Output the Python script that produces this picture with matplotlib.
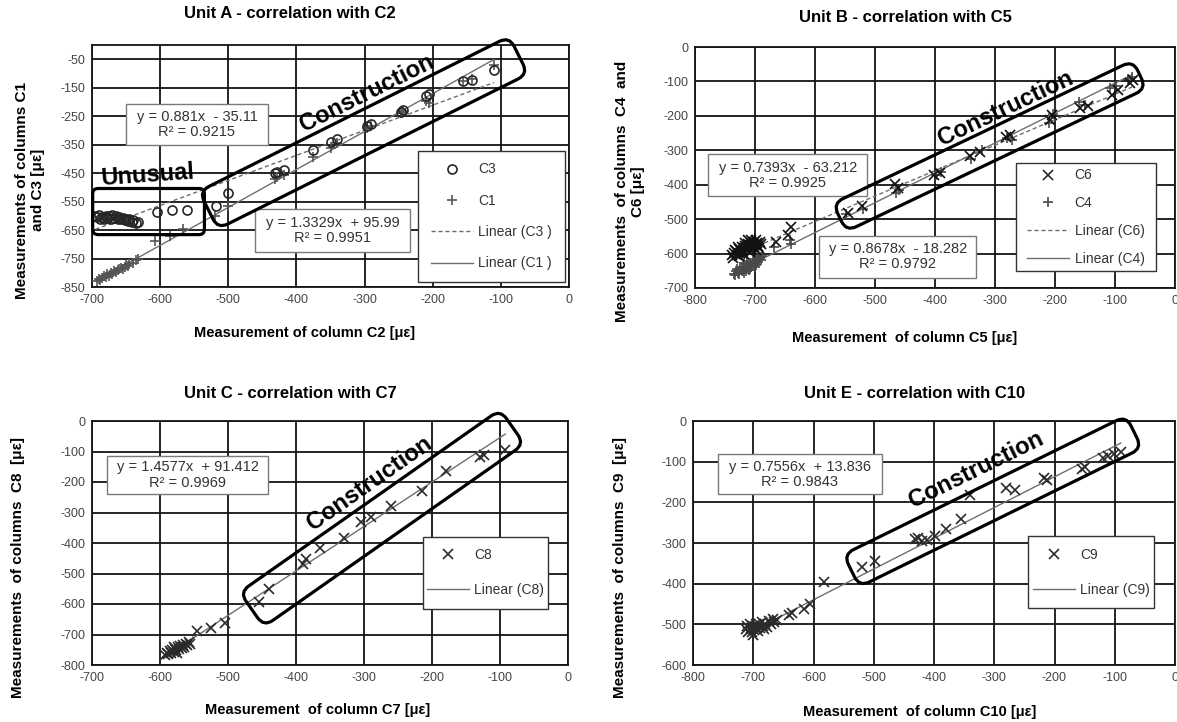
import numpy as np
import matplotlib
matplotlib.use("Agg")
import matplotlib.pyplot as plt
from matplotlib.patches import FancyBboxPatch, Rectangle
from matplotlib.lines import Line2D
from matplotlib.transforms import Affine2D

plt.rcParams['font.family'] = ['Liberation Sans', 'DejaVu Sans']
plt.rcParams['axes.unicode_minus'] = False

W, H = 1177, 722

# ---------------- Unit A ----------------
a_c2_c3 = [-695, -692, -690, -688, -685, -683, -680, -678, -675, -672, -670, -668, -665, -662, -660,
           -657, -655, -652, -650, -647, -645, -642, -640, -636, -633,
           -605, -583, -560, -518, -500, -432, -428, -418, -376, -350, -340, -296, -290, -246, -243,
           -210, -205, -155, -142, -110]
a_c3 = [-600, -605, -598, -610, -603, -612, -600, -608, -602, -612, -598, -606, -600, -610, -603,
        -612, -606, -615, -610, -618, -612, -620, -615, -625, -622,
        -585, -578, -580, -565, -520, -448, -445, -440, -370, -342, -330, -283, -278, -235, -230,
        -178, -172, -128, -122, -88]
a_c2_c1 = [-692, -690, -688, -685, -683, -680, -678, -675, -672, -670, -667, -665, -662, -660, -657,
           -655, -652, -650, -647, -645, -640, -636, -633,
           -607, -586, -566, -520, -500, -432, -428, -418, -376, -350, -340, -296, -290, -246, -243,
           -210, -205, -155, -142, -110]
a_c1 = [-830, -822, -826, -818, -812, -815, -806, -810, -800, -804, -795, -798, -790, -786, -782,
        -788, -778, -772, -776, -768, -765, -755, -750,
        -690, -672, -648, -600, -565, -470, -462, -455, -395, -362, -345, -290, -285, -238, -232,
        -195, -205, -125, -118, -70]
a_fit_c3 = (0.881, -35.11)
a_fit_c1 = (1.3329, 95.99)

# ---------------- Unit B ----------------
b_c5_c6 = [-738, -735, -732, -730, -727, -725, -722, -720, -717, -715, -712, -710, -707, -705, -702,
           -700, -697, -695, -692, -690, -718, -708, -698, -728, -712,
           -736, -733, -729, -724, -719, -714, -709, -704, -699, -694, -721, -716, -706, -701, -726,
           -665, -645, -640, -545, -522, -466, -462, -402, -392, -342, -325, -282, -275, -208, -205,
           -158, -145, -105, -95, -75, -70]
b_c6 = [-605, -598, -592, -603, -588, -597, -582, -592, -578, -588, -572, -583, -570, -580, -565,
        -575, -568, -578, -565, -572, -600, -595, -590, -580, -562,
        -612, -590, -598, -592, -585, -580, -576, -572, -560, -585, -598, -570, -560, -582, -608,
        -565, -545, -522, -482, -462, -398, -410, -372, -365, -318, -305, -262, -255, -212, -198,
        -178, -170, -140, -125, -105, -95]
b_c5_c4 = [-735, -732, -728, -725, -722, -720, -717, -714, -711, -708, -705, -702, -700, -697, -695,
           -692, -690, -688, -710, -700, -718,
           -733, -730, -726, -723, -719, -715, -712, -709, -706, -703, -698, -694, -691, -713, -704,
           -668, -642, -640, -548, -520, -465, -460, -398, -390, -340, -322, -280, -272, -210, -203,
           -160, -150, -108, -98, -78, -72]
b_c4 = [-658, -650, -655, -645, -650, -638, -644, -632, -640, -628, -635, -622, -630, -618, -625,
        -612, -620, -608, -648, -640, -628,
        -662, -645, -660, -640, -655, -650, -636, -645, -640, -626, -634, -615, -610, -622, -616,
        -580, -560, -572, -485, -470, -425, -415, -372, -362, -325, -300, -265, -270, -220, -195,
        -160, -168, -118, -112, -92, -88]
b_fit_c6 = (0.7393, -63.212)
b_fit_c4 = (0.8678, -18.282)

# ---------------- Unit C ----------------
c_c7 = [-592, -590, -588, -586, -584, -582, -580, -578, -576, -574, -572, -570, -568, -566, -564,
        -562, -560, -558, -556, -575, -580,
        -545, -525, -505, -455, -440, -390, -386, -365, -330, -305, -290, -260, -215, -180, -130,
        -124, -92]
c_c8 = [-768, -760, -764, -755, -760, -750, -756, -746, -752, -742, -748, -738, -744, -734, -740,
        -730, -735, -725, -730, -760, -740,
        -688, -678, -662, -595, -552, -470, -452, -418, -385, -330, -315, -278, -228, -165, -118,
        -110, -95]
c_fit_c8 = (1.4577, 91.412)

# ---------------- Unit E ----------------
e_c10 = [-712, -710, -708, -706, -704, -702, -700, -698, -696, -694, -692, -690, -688, -686, -684,
         -682, -680, -677, -674, -671, -668, -665, -660, -700,
         -640, -636, -615, -605, -582, -520, -498, -432, -426, -420, -412, -398, -380, -355, -340,
         -280, -265, -218, -212, -155, -150, -120, -112, -102, -90]
e_c9 = [-512, -505, -518, -500, -510, -520, -503, -514, -498, -508, -516, -500, -510, -495, -505,
        -512, -498, -506, -492, -500, -488, -495, -490, -525,
        -478, -472, -462, -450, -396, -360, -345, -290, -288, -296, -292, -284, -265, -240, -182,
        -165, -170, -140, -145, -118, -112, -92, -86, -82, -76]
e_fit_c9 = (0.7556, 13.836)

fig = plt.figure(figsize=(W / 100, H / 100), dpi=100)

GRID = '#141414'
TICK = '#454545'
LINE = '#6e6e6e'


def px_axes(l, t, r, b):
    return fig.add_axes([l / W, 1 - b / H, (r - l) / W, (b - t) / H])


def style(ax, xlim, ylim, yticks, title, title_xy, xlabel, xlab_xy, ylabel, ylab_x):
    ax.set_xlim(*xlim)
    ax.set_ylim(*ylim)
    ax.set_autoscale_on(False)
    ax.set_xticks(np.arange(xlim[0], xlim[1] + 1, 100))
    ax.set_yticks(yticks)
    ax.grid(True, color=GRID, lw=1.3)
    ax.set_axisbelow(True)
    for s in ax.spines.values():
        s.set_color(GRID)
        s.set_linewidth(1.3)
    ax.tick_params(length=0, labelsize=9, labelcolor=TICK, pad=5)
    fig.text(title_xy[0] / W, 1 - title_xy[1] / H, title, ha='center', va='center',
             fontsize=12, fontweight='bold')
    bb = ax.get_position()
    ax.set_xlabel(xlabel, fontsize=10.5, fontweight='bold', va='center')
    ax.xaxis.set_label_coords((xlab_xy[0] / W - bb.x0) / bb.width,
                              (1 - xlab_xy[1] / H - bb.y0) / bb.height)
    ax.set_ylabel(ylabel, fontsize=11, fontweight='bold', linespacing=1.15, va='center')
    ax.yaxis.set_label_coords((ylab_x / W - bb.x0) / bb.width, 0.4)


def fit_line(ax, xs, fit, ls):
    xx = np.array([min(xs), max(xs)], dtype=float)
    ax.plot(xx, fit[0] * xx + fit[1], color=LINE, lw=1.0, ls=ls, zorder=3)


def eq_box(ax, x0, y0, x1, y1, text):
    ax.add_patch(Rectangle((x0, y0), x1 - x0, y1 - y0, transform=ax.transAxes,
                           fc='white', ec='#7a7a7a', lw=1.0, zorder=5))
    ax.text((x0 + x1) / 2, (y0 + y1) / 2, text, transform=ax.transAxes, ha='center',
            va='center', fontsize=10.5, color='#333333', zorder=6, linespacing=1.1)


def legend_box(ax, x0, y0, x1, y1, handles, labels, spacing):
    ax.add_patch(Rectangle((x0, y0), x1 - x0, y1 - y0, transform=ax.transAxes,
                           fc='white', ec='#333333', lw=1.0, zorder=5))
    leg = ax.legend(handles, labels, loc='center', bbox_to_anchor=((x0 + x1) / 2, (y0 + y1) / 2),
                    frameon=False, fontsize=10, labelspacing=spacing, handlelength=3.0,
                    handletextpad=0.4, labelcolor='#333333')
    leg.set_zorder(7)


def band(ax, p0, p1, width, label=None, label_xy=None, rounding=11):
    d0 = ax.transData.transform(p0)
    d1 = ax.transData.transform(p1)
    v = d1 - d0
    L = np.hypot(*v)
    ang = np.degrees(np.arctan2(v[1], v[0]))
    c = (d0 + d1) / 2
    patch = FancyBboxPatch((-L / 2, -width / 2), L, width,
                           boxstyle="round,pad=0,rounding_size=%g" % rounding,
                           transform=Affine2D().rotate_deg(ang).translate(c[0], c[1]),
                           fc='none', ec='black', lw=2.3, clip_on=False, zorder=8)
    ax.add_patch(patch)
    if label:
        ax.text(label_xy[0], label_xy[1], label, rotation=ang, rotation_mode='anchor',
                ha='center', va='center', fontsize=17, fontweight='bold', zorder=9)


def circles(ax, x, y):
    ax.plot(x, y, ls='none', marker='o', ms=6.5, mfc='none', mec='#262626', mew=1.2, zorder=4)


def pluses(ax, x, y, color='#555555'):
    ax.plot(x, y, ls='none', marker='+', ms=7, color=color, mew=1.2, zorder=4)


def crosses(ax, x, y, color='#2a2a2a'):
    ax.plot(x, y, ls='none', marker='x', ms=6.5, color=color, mew=1.2, zorder=4)


# ---------------- panel A ----------------
axA = px_axes(92, 45, 569, 287)
style(axA, (-700, 0), (-850, 0), np.arange(-850, 0, 100), 'Unit A - correlation with C2', (290, 13),
      'Measurement of column C2 [\u03bc\u03b5]', (305, 333),
      'Measurements of columns C1\nand C3 [\u03bc\u03b5]', 30)
fit_line(axA, a_c2_c3, a_fit_c3, (0, (3, 2)))
fit_line(axA, a_c2_c1, a_fit_c1, '-')
pluses(axA, a_c2_c1, a_c1)
circles(axA, a_c2_c3, a_c3)
eq_box(axA, 0.072, 0.585, 0.368, 0.756, 'y = 0.881x  - 35.11\nR\u00b2 = 0.9215')
eq_box(axA, 0.342, 0.143, 0.666, 0.324, 'y = 1.3329x  + 95.99\nR\u00b2 = 0.9951')
legend_box(axA, 0.684, 0.02, 0.992, 0.563,
           [Line2D([], [], ls='none', marker='o', ms=6.5, mfc='none', mec='#262626', mew=1.2),
            Line2D([], [], ls='none', marker='+', ms=7, color='#555555', mew=1.2),
            Line2D([], [], color=LINE, lw=1.0, ls=(0, (3, 2))),
            Line2D([], [], color=LINE, lw=1.0)],
           ['C3', 'C1', 'Linear (C3 )', 'Linear (C1 )'], 1.25)
band(axA, (-529, -580), (-74, -36), 42, 'Construction', (-296, -168))
axA.add_patch(FancyBboxPatch((-699, -666), 164, 162, boxstyle="round,pad=0,rounding_size=8",
                             mutation_aspect=162 / 164 * 2.4, fc='none', ec='black', lw=2.3,
                             clip_on=False, zorder=8))
axA.text(-618, -458, 'Unusual', rotation=4, ha='center', va='center', fontsize=17,
         fontweight='bold', zorder=9)

# ---------------- panel B ----------------
axB = px_axes(695, 47, 1175, 288)
style(axB, (-800, 0), (-700, 0), np.arange(-700, 1, 100), 'Unit B - correlation with C5', (905, 17),
      'Measurement  of column C5 [\u03bc\u03b5]', (905, 338),
      'Measurements  of columns  C4  and\nC6 [\u03bc\u03b5]', 630)
fit_line(axB, b_c5_c6, b_fit_c6, (0, (3, 2)))
fit_line(axB, b_c5_c4, b_fit_c4, '-')
pluses(axB, b_c5_c4, b_c4, '#4a4a4a')
crosses(axB, b_c5_c6, b_c6, '#111111')
eq_box(axB, 0.027, 0.382, 0.359, 0.555, 'y = 0.7393x  - 63.212\nR\u00b2 = 0.9925')
eq_box(axB, 0.259, 0.042, 0.586, 0.217, 'y = 0.8678x  - 18.282\nR\u00b2 = 0.9792')
legend_box(axB, 0.668, 0.07, 0.961, 0.517,
           [Line2D([], [], ls='none', marker='x', ms=6.5, color='#2a2a2a', mew=1.2),
            Line2D([], [], ls='none', marker='+', ms=7, color='#4a4a4a', mew=1.2),
            Line2D([], [], color=LINE, lw=1.0, ls=(0, (3, 2))),
            Line2D([], [], color=LINE, lw=1.0)],
           ['C6', 'C4', 'Linear (C6)', 'Linear (C4)'], 1.0)
band(axB, (-559, -495), (-59, -80), 31, 'Construction', (-283, -180))

# ---------------- panel C ----------------
axC = px_axes(92, 421, 568, 665)
style(axC, (-700, 0), (-800, 0), np.arange(-800, 1, 100), 'Unit C - correlation with C7', (290, 393),
      'Measurement  of column C7 [\u03bc\u03b5]', (318, 710),
      'Measurements  of columns  C8  [\u03bc\u03b5]', 18)
fit_line(axC, c_c7, c_fit_c8, '-')
crosses(axC, c_c7, c_c8)
eq_box(axC, 0.032, 0.699, 0.370, 0.858, 'y = 1.4577x  + 91.412\nR\u00b2 = 0.9969')
legend_box(axC, 0.696, 0.231, 0.957, 0.525,
           [Line2D([], [], ls='none', marker='x', ms=6.5, color='#2a2a2a', mew=1.2),
            Line2D([], [], color=LINE, lw=1.0)],
           ['C8', 'Linear (C8)'], 1.5)
band(axC, (-465, -618), (-82, -19), 42, 'Construction', (-292, -205))

# ---------------- panel E ----------------
axE = px_axes(693, 421, 1175, 665)
style(axE, (-800, 0), (-600, 0), np.arange(-600, 1, 100), 'Unit E - correlation with C10', (915, 393),
      'Measurement  of column C10 [\u03bc\u03b5]', (920, 712),
      'Measurements  of columns  C9  [\u03bc\u03b5]', 620)
fit_line(axE, e_c10, e_fit_c9, '-')
crosses(axE, e_c10, e_c9)
eq_box(axE, 0.051, 0.700, 0.392, 0.863, 'y = 0.7556x  + 13.836\nR\u00b2 = 0.9843')
legend_box(axE, 0.696, 0.234, 0.957, 0.527,
           [Line2D([], [], ls='none', marker='x', ms=6.5, color='#2a2a2a', mew=1.2),
            Line2D([], [], color=LINE, lw=1.0)],
           ['C9', 'Linear (C9)'], 1.5)
band(axE, (-537, -368), (-68, -27), 36, 'Construction', (-330, -120))

fig.savefig('out.png', dpi=100)
